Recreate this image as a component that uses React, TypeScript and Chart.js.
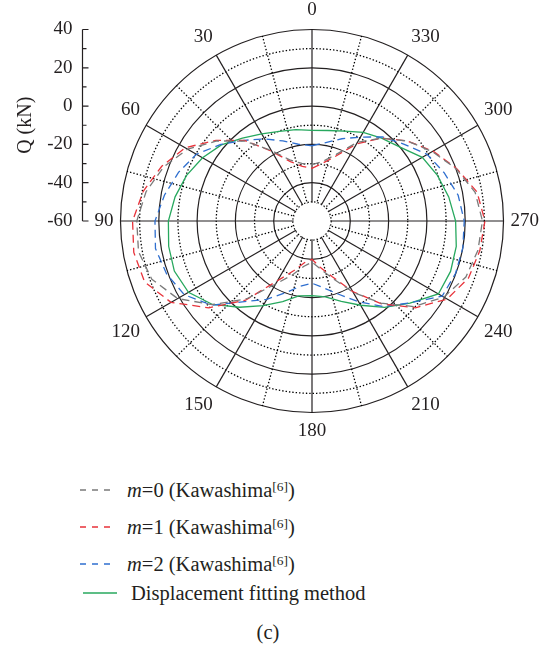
import React, { useEffect, useRef } from 'react';
import Chart from 'chart.js/auto';

// ---------- data (angle in degrees, counter-clockwise from top; Q in kN) ----------
const DATA_ANGLES = [0, 10, 20, 30, 40, 50, 60, 70, 80, 90, 100, 110, 120, 130, 140, 150, 160, 170,
  180, 190, 200, 210, 220, 230, 240, 250, 260, 270, 280, 290, 300, 310, 320, 330, 340, 350];

const Q_M0 = [-30.5, -29.5, -26, -17.5, -5.5, 5, 15, 22.5, 28, 31.5, 32, 29, 21, 8, -7, -22, -30, -36,
  -38.5, -34.5, -28, -17, -4, 9.5, 19.5, 25.5, 28, 29, 26.5, 20, 12.5, 5, -3.5, -12.5, -23, -28.5];

const Q_M1 = [-32.5, -31, -27, -18, -5, 5.5, 16.5, 23.5, 29.5, 33.7, 34.5, 33, 25, 10.5, -6, -24, -32.5, -38,
  -40, -35.5, -29, -17.5, -3.5, 10.5, 21.5, 27, 29, 30.3, 27.5, 20.3, 13, 5, -3.5, -13.5, -24, -29.5];

const Q_M2 = [-20.7, -19.3, -15.5, -10.5, -5, 2.2, 9.7, 14.2, 18.2, 22, 23, 20.8, 17, 8.4, -5, -12.8, -20.2, -25.5,
  -27.5, -24.5, -19.3, -11.3, -1.6, 6.5, 18.5, 19.8, 20, 19.5, 17.5, 13.5, 9.5, 2.5, -2.7, -9.4, -14.3, -18.4];

const Q_FIT = [-12.7, -11.5, -10.2, -7.5, -3.5, 1.8, 6, 9.7, 12.6, 15, 16, 16.5, 14.5, 7.8, -1.2, -9, -15.2, -20.3,
  -21, -19.8, -15.3, -9.2, -1.1, 6.8, 16.2, 17, 16.5, 15, 12.5, 9.7, 6.5, 0, -3.5, -6.5, -10, -12];

const SERIES_NAMES = ['m=0 (Kawashima[6])', 'm=1 (Kawashima[6])', 'm=2 (Kawashima[6])', 'Displacement fitting method'];
const LEGEND_M = ['0', '1', '2'];

const R_MIN = -60;
const R_MAX = 40;
const R_STEP = 10;
const HOLE_VALUE = -50;
const AXIS_MAJOR = [40, 20, 0, -20, -40, -60];
const AXIS_MINOR = [30, 10, -10, -30, -50];
const AXIS_TITLE = 'Q (kN)';
const AXIS_TITLE_AT = -10;
const ANGLE_STEP = 5;

// ---------- styles ----------
const FONT = '"Liberation Serif", "Times New Roman", serif';
const INK = '#231f20';
const DOT_INK = '#000000';
const C_GREY = '#7a7a7a';
const C_RED = '#e8323a';
const C_BLUE = '#2f6fcf';
const C_GREEN = '#27a85e';
const DOTS = [1.4, 2];

const N = 360 / ANGLE_STEP;
const angleAt = (i: number) => (360 - i * ANGLE_STEP) % 360;
const LABELS = Array.from({ length: N }, (_, i) => String(angleAt(i)));

function toRadar(values: number[]) {
  return LABELS.map((_, i) => {
    const k = DATA_ANGLES.indexOf(angleAt(i));
    return k >= 0 ? values[k] : null;
  });
}

const isMajorRing = (v: number) => Math.abs(v) % 20 === 0;

const decorPlugin = {
  id: 'decor',
  beforeDatasetsDraw(chart: any) {
    const s = chart.scales.r;
    const ctx = chart.ctx;
    const r = s.getDistanceFromCenterForValue(HOLE_VALUE);
    ctx.save();
    ctx.fillStyle = '#ffffff';
    ctx.beginPath();
    ctx.arc(s.xCenter, s.yCenter, r - 0.8, 0, Math.PI * 2);
    ctx.fill();
    ctx.restore();
  },
  afterDraw(chart: any) {
    const s = chart.scales.r;
    const ctx = chart.ctx;
    const x = Math.round(s.xCenter - s.drawingArea - 39) + 0.5;
    const yOf = (v: number) => s.yCenter - s.getDistanceFromCenterForValue(v);
    ctx.save();
    ctx.strokeStyle = INK;
    ctx.lineWidth = 1.2;
    ctx.beginPath();
    ctx.moveTo(x, yOf(R_MAX));
    ctx.lineTo(x, yOf(R_MIN));
    AXIS_MAJOR.forEach((v) => { ctx.moveTo(x, yOf(v)); ctx.lineTo(x + 6, yOf(v)); });
    AXIS_MINOR.forEach((v) => { ctx.moveTo(x, yOf(v)); ctx.lineTo(x + 4, yOf(v)); });
    ctx.stroke();
    ctx.fillStyle = INK;
    ctx.font = `19px ${FONT}`;
    ctx.textAlign = 'right';
    ctx.textBaseline = 'middle';
    AXIS_MAJOR.forEach((v) => ctx.fillText(String(v), x - 10, yOf(v)));
    ctx.font = `20px ${FONT}`;
    ctx.translate(x - 57, yOf(AXIS_TITLE_AT));
    ctx.rotate(-Math.PI / 2);
    ctx.textAlign = 'center';
    ctx.fillText(AXIS_TITLE, 0, 0);
    ctx.restore();
  },
};

function PolarChart() {
  const ref = useRef<HTMLCanvasElement | null>(null);
  useEffect(() => {
    if (!ref.current) return;
    const dashed = [8, 5];
    const mk = (label: string, data: number[], color: string, dash: number[]) => ({
      label,
      data: toRadar(data),
      borderColor: color,
      backgroundColor: color,
      borderWidth: 1.3,
      borderDash: dash,
      pointRadius: 0,
      pointHoverRadius: 0,
      fill: false,
      spanGaps: true,
      tension: 0,
    });
    const chart = new Chart(ref.current, {
      type: 'radar',
      data: {
        labels: LABELS,
        datasets: [
          mk(SERIES_NAMES[0], Q_M0, C_GREY, dashed),
          mk(SERIES_NAMES[1], Q_M1, C_RED, dashed),
          mk(SERIES_NAMES[2], Q_M2, C_BLUE, dashed),
          mk(SERIES_NAMES[3], Q_FIT, C_GREEN, []),
        ],
      },
      options: {
        responsive: false,
        animation: false,
        events: [],
        layout: { padding: { left: 90, top: 5, right: 16, bottom: 1 } },
        plugins: { legend: { display: false }, tooltip: { enabled: false } },
        scales: {
          r: {
            min: R_MIN,
            max: R_MAX,
            ticks: { display: false, stepSize: R_STEP },
            grid: {
              circular: true,
              color: (c: any) => (isMajorRing(c.tick.value) ? INK : DOT_INK),
              lineWidth: (c: any) => (isMajorRing(c.tick.value) ? 1.2 : 1.3),
            },
            border: {
              dash: (c: any) => (c.tick && isMajorRing(c.tick.value) ? [] : DOTS),
            },
            angleLines: {
              display: true,
              color: (c: any) => (angleAt(c.index) % 30 === 0 ? INK : DOT_INK),
              lineWidth: (c: any) => {
                const a = angleAt(c.index);
                return a % 15 !== 0 ? 0 : a % 30 === 0 ? 1.2 : 1.3;
              },
              borderDash: (c: any) => (angleAt(c.index) % 30 === 0 ? [] : DOTS),
            },
            pointLabels: {
              display: true,
              padding: 7,
              color: INK,
              font: { family: FONT, size: 19, lineHeight: 1.263 },
              callback: (label: string) => (Number(label) % 30 === 0 ? label : ''),
            },
          },
        },
      },
      plugins: [decorPlugin],
    });
    return () => chart.destroy();
  }, []);
  return <canvas ref={ref} width={560} height={460} style={{ position: 'absolute', left: 0, top: -10 }} />;
}

function DashSample({ color, dashed, width }: { color: string; dashed: boolean; width: number }) {
  return (
    <svg width={width} height={4} style={{ display: 'block' }}>
      <line x1={0} y1={2} x2={width} y2={2} stroke={color} strokeWidth={1.3} strokeDasharray={dashed ? '6 6' : undefined} />
    </svg>
  );
}

const LEGEND_ROWS = [
  { color: C_GREY, y: 490 },
  { color: C_RED, y: 527 },
  { color: C_BLUE, y: 564 },
];

const TEXT_SIZE = 20.5;

export default function App() {
  return (
    <div style={{ position: 'absolute', left: 0, top: 0, width: 539, height: 648, overflow: 'hidden', background: '#fff', fontFamily: FONT, color: INK }}>
      <PolarChart />
      {LEGEND_ROWS.map((row, i) => (
        <div key={i}>
          <div style={{ position: 'absolute', left: 80, top: row.y - 2 }}>
            <DashSample color={row.color} dashed width={30} />
          </div>
          <div style={{ position: 'absolute', left: 127, top: row.y - 12, height: 24, lineHeight: '24px', fontSize: TEXT_SIZE, whiteSpace: 'nowrap' }}>
            <i>m</i>={LEGEND_M[i]} (Kawashima<sup style={{ fontSize: 13.5, lineHeight: 0, verticalAlign: 6 }}>[6]</sup>)
          </div>
        </div>
      ))}
      <div style={{ position: 'absolute', left: 83, top: 593 - 2 }}>
        <DashSample color={C_GREEN} dashed={false} width={34} />
      </div>
      <div style={{ position: 'absolute', left: 131, top: 593 - 12, height: 24, lineHeight: '24px', fontSize: TEXT_SIZE, whiteSpace: 'nowrap' }}>
        {SERIES_NAMES[3]}
      </div>
      <div style={{ position: 'absolute', left: 0, width: 536, top: 620, height: 24, lineHeight: '24px', fontSize: TEXT_SIZE, textAlign: 'center' }}>
        (c)
      </div>
    </div>
  );
}
